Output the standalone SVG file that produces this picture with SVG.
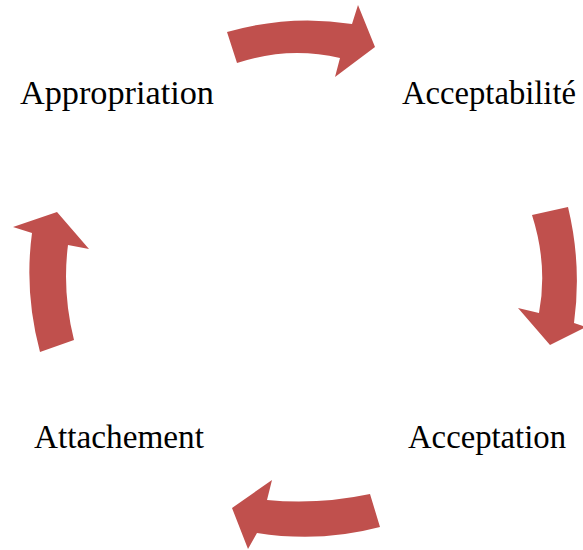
<svg xmlns="http://www.w3.org/2000/svg" width="583" height="550" viewBox="0 0 583 550">
<style>
.arrow{fill:#C0504D;stroke:none}
.lbl{font-family:"Liberation Serif","DejaVu Serif",serif;font-size:33px;fill:#000}
</style>
<rect width="583" height="550" fill="#fff"/>
<g id="connectors">
<path class="arrow" d="M227,32 Q290,14 352,24 L358,5 L375,47 L335,77 L340,58 Q288,46 237,63 Z"/>
<path class="arrow" d="M532,215 L568,207 Q582,265 574,323 L586,327 L550,345 L518,308 L539,313 Q548,265 532,215 Z"/>
<path class="arrow" d="M380,527 L370,494 Q318,505 267,500 L272,480 L232,508 L248,549 L257,533 Q320,543 380,527 Z"/>
<path class="arrow" d="M40,352 L74,340 Q62,292 68,245 L89,249 L57,212 L13,227 L32,233 Q24,292 40,352 Z"/>
</g>
<g id="node-appropriation"><text class="lbl" x="20" y="104" textLength="194" lengthAdjust="spacingAndGlyphs">Appropriation</text></g>
<g id="node-acceptabilite"><text class="lbl" x="402" y="104" textLength="174" lengthAdjust="spacingAndGlyphs">Acceptabilité</text></g>
<g id="node-acceptation"><text class="lbl" x="408" y="448" textLength="158" lengthAdjust="spacingAndGlyphs">Acceptation</text></g>
<g id="node-attachement"><text class="lbl" x="34" y="448" textLength="170" lengthAdjust="spacingAndGlyphs">Attachement</text></g>
</svg>
